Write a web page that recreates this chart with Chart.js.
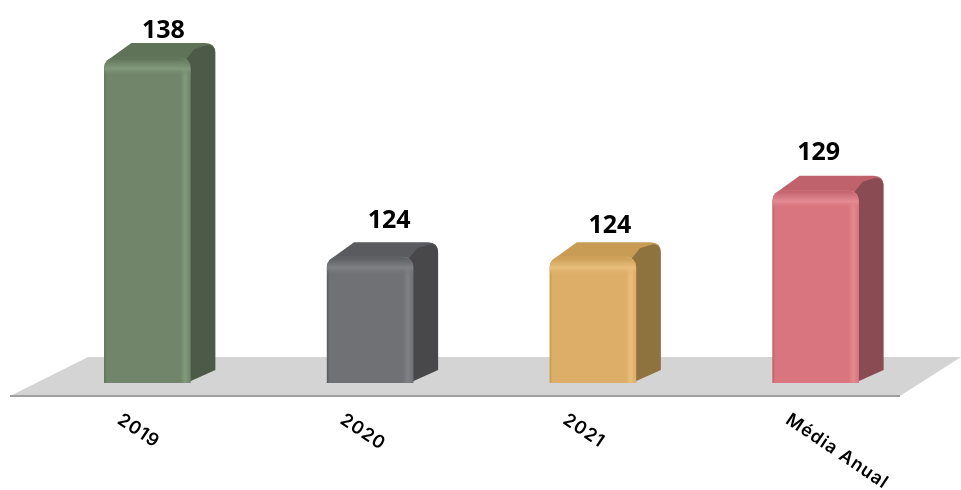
<!DOCTYPE html>
<html>
<head>
<meta charset="utf-8">
<style>
  html, body { margin: 0; padding: 0; background: #fff; }
  canvas { display: block; }
</style>
<script src="https://cdn.jsdelivr.net/npm/chart.js@4"></script>
</head>
<body>
<canvas id="chart" width="961" height="490"></canvas>
<script>
const categories = ['2019', '2020', '2021', 'Média Anual'];
const values = [138, 124, 124, 128.67];
const frontColors = ['#70856a', '#707174', '#dcae68', '#d9757e'];
const lightColors = ['#839a7c', '#808184', '#e8bf7b', '#e58a92'];
const topColors = ['#5f7359', '#5a5b5e', '#c89c55', '#c0626c'];
const sideColors = ['#4c5a47', '#48484b', '#8f733f', '#8a4c52'];
// nudges of the value labels, relative to the top of each bar
const labelNudgeX = [16, 19, 17, 3];
const labelNudgeY = [-27, -36, -31, -38];

const BAR_W = 86, DEPTH_X = 25, DEPTH_Y = 15;

function frontGradient(c) {
    const chart = c.chart;
    if (!chart.chartArea || c.dataIndex === undefined) return frontColors[0];
    const cx = chart.scales.x.getPixelForValue(c.dataIndex);
    const i = c.dataIndex;
    const g = chart.ctx.createLinearGradient(cx - BAR_W / 2, 0, cx + BAR_W / 2, 0);
    g.addColorStop(0, topColors[i]);
    g.addColorStop(0.03, frontColors[i]);
    g.addColorStop(0.88, frontColors[i]);
    g.addColorStop(0.94, lightColors[i]);
    g.addColorStop(1, frontColors[i]);
    return g;
}

// floor, and the top and side faces behind each bar
const backFaces = {
    id: 'backFaces',
    beforeDatasetsDraw(chart) {
        const ctx = chart.ctx;
        const base = chart.chartArea.bottom;
        ctx.save();
        ctx.fillStyle = '#d4d4d4';
        ctx.beginPath();
        ctx.moveTo(10, base + 13);
        ctx.lineTo(88, base - 26);
        ctx.lineTo(961, base - 26);
        ctx.lineTo(900, base + 13);
        ctx.closePath();
        ctx.fill();
        ctx.fillStyle = '#9e9e9e';
        ctx.fillRect(10, base + 12, 890, 2);

        chart.getDatasetMeta(0).data.forEach((bar, i) => {
            const x0 = bar.x - BAR_W / 2, x1 = bar.x + BAR_W / 2, top = bar.y;
            const bx = x1 + DEPTH_X, by = top - DEPTH_Y;
            // top face
            ctx.fillStyle = topColors[i];
            ctx.beginPath();
            ctx.moveTo(x0 + 2, top + 3);
            ctx.lineTo(x0 + DEPTH_X + 2, by);
            ctx.lineTo(bx - 10, by);
            ctx.quadraticCurveTo(bx, by, bx, by + 10);
            ctx.lineTo(x1, top + 12);
            ctx.closePath();
            ctx.fill();
            // side face
            ctx.fillStyle = sideColors[i];
            ctx.beginPath();
            ctx.moveTo(x1 - 8, top + 6);
            ctx.lineTo(x1 + 4, by + 6);
            ctx.lineTo(bx - 8, by + 2);
            ctx.quadraticCurveTo(bx, by + 2, bx, by + 11);
            ctx.lineTo(bx, base - DEPTH_Y + 2);
            ctx.lineTo(x1 - 4, base);
            ctx.closePath();
            ctx.fill();
        });
        ctx.restore();
    }
};

// bevel, value labels and slanted category labels
const frontDetails = {
    id: 'frontDetails',
    afterDatasetsDraw(chart) {
        const ctx = chart.ctx;
        const base = chart.chartArea.bottom;
        ctx.save();
        chart.getDatasetMeta(0).data.forEach((bar, i) => {
            const x0 = bar.x - BAR_W / 2, top = bar.y;
            const g = ctx.createLinearGradient(0, top, 0, top + 18);
            g.addColorStop(0, topColors[i]);
            g.addColorStop(0.6, lightColors[i]);
            g.addColorStop(1, frontColors[i] + '00');
            ctx.fillStyle = g;
            ctx.beginPath();
            ctx.roundRect(x0, top, BAR_W, 18, [10, 10, 0, 0]);
            ctx.fill();

            ctx.fillStyle = '#000';
            ctx.font = 'bold 25px "Open Sans", sans-serif';
            ctx.textAlign = 'center';
            ctx.textBaseline = 'middle';
            ctx.fillText(values[i].toFixed(0), bar.x + labelNudgeX[i], top + labelNudgeY[i]);

            ctx.save();
            ctx.translate(x0 + 15, base + 35);
            ctx.rotate(34 * Math.PI / 180);
            ctx.font = '600 18px Inter, sans-serif';
            ctx.letterSpacing = '1px';
            ctx.textAlign = 'left';
            ctx.fillText(categories[i], 0, 0);
            ctx.restore();
        });
        ctx.restore();
    }
};

new Chart(document.getElementById('chart'), {
    type: 'bar',
    data: {
        labels: categories,
        datasets: [{
            data: values,
            backgroundColor: frontGradient,
            barThickness: BAR_W,
            borderRadius: { topLeft: 10, topRight: 10, bottomLeft: 3, bottomRight: 6 },
            borderSkipped: false
        }]
    },
    options: {
        responsive: false,
        animation: false,
        layout: { padding: { left: 36, right: 34, top: 0, bottom: 107 } },
        plugins: { legend: { display: false }, tooltip: { enabled: false } },
        scales: {
            x: { display: false },
            y: { display: false, min: 115.15, max: 142.08 }
        }
    },
    plugins: [backFaces, frontDetails]
});
</script>
</body>
</html>
